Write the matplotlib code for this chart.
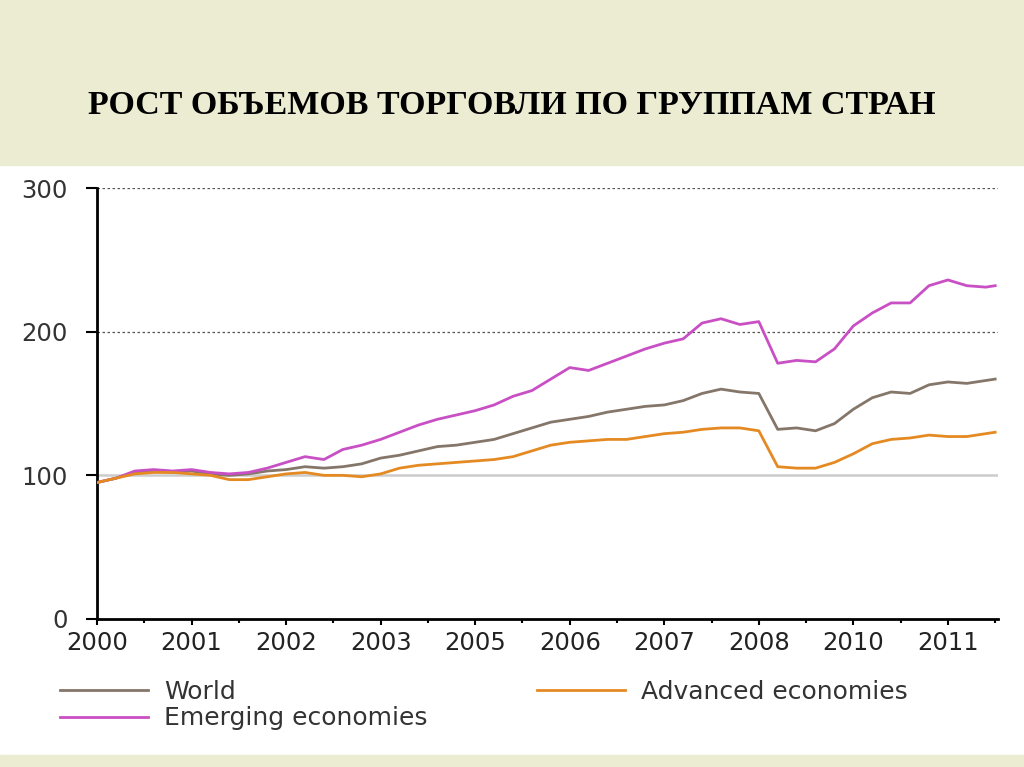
"""
Рост объемов торговли по группам стран (index, 2000 = 100)
"""
import numpy as np
import matplotlib.pyplot as plt
from matplotlib.patches import Rectangle

# x positions in tick-label units (one unit between neighbouring year labels)
x = np.arange(49) * 0.2
x[-1] = 9.5

year_labels = ['2000', '2001', '2002', '2003', '2005',
               '2006', '2007', '2008', '2010', '2011']

world = [95, 98, 102, 103, 102, 103, 101, 100, 101, 103,
         104, 106, 105, 106, 108, 112, 114, 117, 120, 121,
         123, 125, 129, 133, 137, 139, 141, 144, 146, 148,
         149, 152, 157, 160, 158, 157, 132, 133, 131, 136,
         146, 154, 158, 157, 163, 165, 164, 166, 167]

advanced = [95, 98, 101, 102, 102, 101, 100, 97, 97, 99,
            101, 102, 100, 100, 99, 101, 105, 107, 108, 109,
            110, 111, 113, 117, 121, 123, 124, 125, 125, 127,
            129, 130, 132, 133, 133, 131, 106, 105, 105, 109,
            115, 122, 125, 126, 128, 127, 127, 129, 130]

emerging = [95, 98, 103, 104, 103, 104, 102, 101, 102, 105,
            109, 113, 111, 118, 121, 125, 130, 135, 139, 142,
            145, 149, 155, 159, 167, 175, 173, 178, 183, 188,
            192, 195, 206, 209, 205, 207, 178, 180, 179, 188,
            204, 213, 220, 220, 232, 236, 232, 231, 232]

beige = '#ECECD3'

fig = plt.figure(figsize=(10.24, 7.67), dpi=100)
fig.patch.set_facecolor('white')
fig.patches.append(Rectangle((0, 1 - 165 / 767), 1, 165 / 767,
                             transform=fig.transFigure, color=beige, zorder=0))
fig.patches.append(Rectangle((0, 0), 1, 12 / 767,
                             transform=fig.transFigure, color=beige, zorder=0))

fig.text(0.5, 1 - 106 / 767, 'РОСТ ОБЪЕМОВ ТОРГОВЛИ ПО ГРУППАМ СТРАН',
         ha='center', va='center', fontsize=24.5, fontweight='bold',
         family='Liberation Serif', color='black')

ax = fig.add_axes([97 / 1024, 148 / 767, 901 / 1024, 431 / 767])

ax.axhline(300, color='#555555', lw=0.9, ls=(0, (2, 2)), zorder=1)
ax.axhline(200, color='#555555', lw=0.9, ls=(0, (2, 2)), zorder=1)
ax.axhline(100, color='#cccccc', lw=1.8, zorder=1)

ax.plot(x, world, color='#85766a', lw=2, label='World', zorder=3)
ax.plot(x, emerging, color='#c94fc4', lw=2, label='Emerging economies', zorder=3)
ax.plot(x, advanced, color='#e58a22', lw=2, label='Advanced economies', zorder=3)

ax.set_xlim(0, 9.53)
ax.set_ylim(0, 300)
ax.set_yticks([0, 100, 200, 300])
ax.set_xticks(np.arange(10))
ax.set_xticklabels(year_labels)
ax.set_xticks(np.arange(10) + 0.5, minor=True)

for s in ['top', 'right']:
    ax.spines[s].set_visible(False)
ax.spines['left'].set_linewidth(2)
ax.spines['bottom'].set_linewidth(2)

ax.tick_params(axis='y', length=8, width=1.5, pad=13, labelsize=17.5,
               labelcolor='#333333')
ax.tick_params(axis='x', which='major', length=4, width=1.5, pad=5,
               labelsize=17.5, labelcolor='#222222')
ax.tick_params(axis='x', which='minor', length=3, width=1.5)
for lab in ax.get_xticklabels() + ax.get_yticklabels():
    lab.set_family('DejaVu Sans')

leg = ax.legend(loc='upper left', bbox_to_anchor=(-37 / 901, -61 / 431), ncol=2,
                frameon=False, fontsize=18, handlelength=3.5,
                handletextpad=0.65, columnspacing=4.4, labelspacing=0.1,
                borderaxespad=0, borderpad=0)
for t in leg.get_texts():
    t.set_color('#333333')

fig.savefig('out.png', dpi=100)
